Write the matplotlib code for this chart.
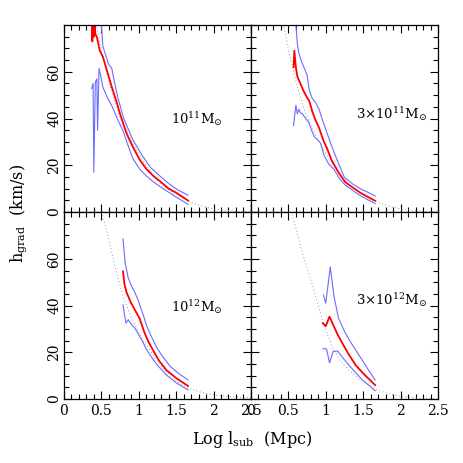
import numpy as np
import matplotlib
matplotlib.use('Agg')
import matplotlib.pyplot as plt
from matplotlib.ticker import MultipleLocator

plt.rcParams['font.family'] = 'DejaVu Serif'
plt.rcParams['mathtext.fontset'] = 'dejavuserif'

# ---- panel 1 : 1e11 Msun ----
red11_x = [0.37, 0.38, 0.39, 0.40, 0.41, 0.42, 0.44, 0.48, 0.52, 0.58, 0.64, 0.70, 0.76, 0.84, 0.92, 1.01, 1.10, 1.20, 1.30, 1.40, 1.50, 1.66]
red11_h = [84, 73, 80, 75, 82, 76, 75, 69, 66.5, 60, 53.5, 47.5, 41, 33.4, 28, 22.5, 18.5, 15.3, 12.8, 10, 8.3, 4.9]
up11_x = [0.49, 0.52, 0.56, 0.60, 0.64, 0.66, 0.72, 0.80, 0.92, 1.04, 1.16, 1.28, 1.40, 1.52, 1.66]
up11_h = [85, 71, 67, 63, 61.5, 58, 49, 40, 31, 24.5, 19, 15.5, 12.2, 9.5, 7.2]
lo11_x = [0.37, 0.39, 0.40, 0.42, 0.44, 0.45, 0.47, 0.50, 0.52, 0.58, 0.64, 0.72, 0.79, 0.84, 0.92, 1.01, 1.10, 1.20, 1.28, 1.40, 1.52, 1.66]
lo11_h = [52.8, 55, 17, 55.5, 57, 35, 61.4, 57, 53.5, 49, 45.5, 39.5, 34.8, 30, 23, 18.5, 15.5, 12.8, 11, 8.5, 6, 3.3]

# ---- panel 2 : 3e11 Msun ----
red3e11_x = [0.57, 0.58, 0.60, 0.62, 0.66, 0.70, 0.74, 0.78, 0.82, 0.86, 0.91, 0.97, 1.02, 1.08, 1.17, 1.26, 1.36, 1.46, 1.56, 1.66]
red3e11_h = [62, 69, 62, 58, 55, 52, 49.5, 47.5, 43, 39.5, 36, 30.5, 27, 22, 17, 12.8, 10.5, 8.3, 6.5, 4.8]
up3e11_x = [0.59, 0.62, 0.64, 0.68, 0.72, 0.75, 0.78, 0.82, 0.86, 0.91, 0.96, 1.02, 1.07, 1.11, 1.18, 1.25, 1.36, 1.46, 1.56, 1.66]
up3e11_h = [85, 72, 68, 64, 61, 58.6, 52, 48.5, 47, 44, 39, 33.5, 29, 25.6, 20, 14.8, 12, 10, 8.5, 6.9]
lo3e11_x = [0.57, 0.58, 0.60, 0.62, 0.64, 0.66, 0.69, 0.73, 0.77, 0.81, 0.85, 0.89, 0.93, 0.98, 1.04, 1.11, 1.18, 1.26, 1.31, 1.40, 1.50, 1.66]
lo3e11_h = [37, 40, 45.7, 42, 44, 42.5, 42, 40, 38.5, 35, 32, 31, 29.5, 24, 20.5, 18.3, 14.5, 11.5, 10.4, 8.3, 6.3, 3.6]

# theory curve, top row
dot_top_x = [0.44, 0.51, 0.62, 0.70, 0.75, 0.82, 0.89, 1.00, 1.10, 1.20, 1.30, 1.40, 1.50, 1.66, 1.80, 2.00, 2.07, 2.25, 2.47]
dot_top_h = [79, 68, 53.6, 45, 40.6, 36, 31.3, 25, 20, 15.5, 12, 9.5, 7.5, 4.7, 3.0, 1.3, 1.1, 0.4, 0]

# ---- panel 3 : 1e12 Msun ----
red12_x = [0.79, 0.81, 0.84, 0.90, 0.96, 1.01, 1.08, 1.13, 1.19, 1.27, 1.37, 1.50, 1.66]
red12_h = [54.6, 49, 45.4, 41, 37.5, 34.6, 28.2, 24.5, 21, 16.5, 12.4, 9, 5.6]
up12_x = [0.79, 0.82, 0.86, 0.90, 0.95, 0.99, 1.06, 1.11, 1.17, 1.24, 1.32, 1.42, 1.54, 1.66]
up12_h = [68.5, 58, 51.8, 48.6, 45.5, 42.5, 36, 31, 26.7, 22, 18.2, 14, 10.8, 8.2]
lo12_x = [0.79, 0.81, 0.83, 0.86, 0.90, 0.95, 1.00, 1.04, 1.10, 1.15, 1.25, 1.37, 1.50, 1.66]
lo12_h = [40.3, 36, 32.5, 34, 32, 30.3, 27.5, 25.3, 21.5, 18.9, 14.5, 10.3, 7, 3.9]
dot12_x = [0.50, 0.57, 0.68, 0.79, 0.90, 1.01, 1.08, 1.15, 1.25, 1.37, 1.50, 1.66, 1.85, 2.03, 2.20, 2.43, 2.50]
dot12_h = [80, 72.5, 57, 44, 35, 28, 24, 21, 16, 11.5, 7.8, 4.6, 2.8, 1.7, 1.1, 0.6, 0.5]

# ---- panel 4 : 3e12 Msun ----
red3e12_x = [0.96, 1.00, 1.05, 1.11, 1.16, 1.22, 1.30, 1.40, 1.50, 1.58, 1.66]
red3e12_h = [32.5, 31.2, 35.3, 31, 27.5, 24, 19.5, 14.5, 11, 8.5, 6]
up3e12_x = [0.97, 1.00, 1.06, 1.11, 1.17, 1.25, 1.31, 1.40, 1.49, 1.58, 1.66]
up3e12_h = [44.5, 41, 56.5, 44, 34.6, 29, 25.5, 21, 16.5, 12, 8.2]
lo3e12_x = [0.96, 1.01, 1.05, 1.10, 1.16, 1.22, 1.31, 1.40, 1.49, 1.58, 1.66]
lo3e12_h = [21.5, 21.5, 15.5, 20.5, 20.5, 18, 14.5, 11.3, 8.2, 5.8, 3.6]
dot3e12_x = [0.55, 0.62, 0.70, 0.77, 0.84, 0.90, 0.97, 1.03, 1.10, 1.20, 1.32, 1.45, 1.66, 1.85, 2.02, 2.25, 2.45]
dot3e12_h = [79, 71, 61, 54, 47, 40, 32, 27, 21.5, 16, 12, 8.5, 4.2, 2.2, 1, 0.5, 0.2]

labels = [r'$\mathrm{10^{11}M_{\odot}}$', r'$\mathrm{3{\times}10^{11}M_{\odot}}$',
          r'$\mathrm{10^{12}M_{\odot}}$', r'$\mathrm{3{\times}10^{12}M_{\odot}}$']
label_pos = [(1.43, 40), (1.40, 42), (1.43, 39.5), (1.40, 42.5)]

panels = [
    (red11_x, red11_h, up11_x, up11_h, lo11_x, lo11_h, dot_top_x, dot_top_h),
    (red3e11_x, red3e11_h, up3e11_x, up3e11_h, lo3e11_x, lo3e11_h, dot_top_x, dot_top_h),
    (red12_x, red12_h, up12_x, up12_h, lo12_x, lo12_h, dot12_x, dot12_h),
    (red3e12_x, red3e12_h, up3e12_x, up3e12_h, lo3e12_x, lo3e12_h, dot3e12_x, dot3e12_h),
]

fig, axes = plt.subplots(2, 2, figsize=(4.63, 4.63), dpi=100)
plt.subplots_adjust(left=0.138, right=0.946, bottom=0.138, top=0.946, wspace=0, hspace=0)

for i, ax in enumerate(axes.flat):
    rx, rh, ux, uh, lx, lh, dx, dh = panels[i]
    ax.plot(dx, dh, ls=(0, (1, 2.5)), color='#999999', lw=0.7)
    ax.plot(ux, uh, color='#6b6bff', lw=0.8)
    ax.plot(lx, lh, color='#6b6bff', lw=0.8)
    ax.plot(rx, rh, color='red', lw=1.3)
    ax.text(label_pos[i][0], label_pos[i][1], labels[i], fontsize=9.5, va='center', ha='left')

    ax.set_xlim(0, 2.5)
    ax.set_ylim(0, 80)
    ax.xaxis.set_major_locator(MultipleLocator(0.5))
    ax.xaxis.set_minor_locator(MultipleLocator(0.1))
    ax.yaxis.set_major_locator(MultipleLocator(20))
    ax.yaxis.set_minor_locator(MultipleLocator(5))
    ax.tick_params(which='both', direction='in', top=True, right=True, width=0.8, labelsize=10)
    ax.tick_params(which='major', length=6)
    ax.tick_params(which='minor', length=3.5)
    ax.xaxis.set_major_formatter(plt.FuncFormatter(lambda v, p: '%g' % v))
    ax.yaxis.set_major_formatter(plt.FuncFormatter(lambda v, p: '' if v > 70 else '%g' % v))
    for sp in ax.spines.values():
        sp.set_linewidth(0.9)
    if i < 2:
        ax.set_xticklabels([])
    if i % 2 == 1:
        ax.set_yticklabels([])
    else:
        ax.tick_params(axis='y', pad=2)
        for lab in ax.get_yticklabels():
            lab.set_rotation(90)
            lab.set_va('center')

fig.text(0.04, 0.54, r'$\mathrm{h_{grad}}$  (km/s)', rotation=90, ha='center', va='center', fontsize=11.5)
fig.text(0.545, 0.05, r'Log l$_{\mathrm{sub}}$  (Mpc)', ha='center', va='center', fontsize=11.5)

plt.savefig('out.png', dpi=100)
